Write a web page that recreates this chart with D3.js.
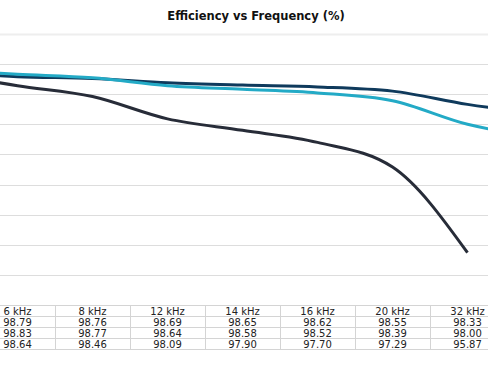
<!DOCTYPE html>
<html><head><meta charset="utf-8">
<script src="https://cdn.jsdelivr.net/npm/d3@7"></script>
<style>html,body{margin:0;padding:0;background:#fff;overflow:hidden}</style>
</head><body>
<svg id="c" width="488" height="366"></svg>
<script>
// visible table columns
const categories = ["6 kHz","8 kHz","12 kHz","14 kHz","16 kHz","20 kHz","32 kHz"];
// plot domain incl. columns cropped off the picture edges (labels not visible)
const plotCategories = ["4 kHz","6 kHz","8 kHz","12 kHz","14 kHz","16 kHz","20 kHz","32 kHz","48 kHz"];
const seriesA = [98.79,98.76,98.69,98.65,98.62,98.55,98.33];
const seriesB = [98.83,98.77,98.64,98.58,98.52,98.39,98.00];
const seriesC = [98.64,98.46,98.09,97.90,97.70,97.29,95.87];
// estimated values at the cropped edge columns
const edgeA = [98.86, 98.17];
const edgeB = [98.90, 97.78];
const edgeC = [98.85, null];
const series = [
  {name:"A", values:[edgeA[0], ...seriesA, edgeA[1]], color:"#0f3a5c"},
  {name:"B", values:[edgeB[0], ...seriesB, edgeB[1]], color:"#23aac6"},
  {name:"C", values:[edgeC[0], ...seriesC, edgeC[1]], color:"#272c38"}
];
const gridValues = [95.5,96,96.5,97,97.5,98,98.5,99];
const title = "Efficiency vs Frequency (%)";

const svg = d3.select("#c");
const W = 488;
const x = d3.scaleBand().domain(plotCategories).range([-95, 580]).padding(0);
const y = d3.scaleLinear().domain([95.5, 99]).range([275, 64]);

svg.append("text").attr("x", 256).attr("y", 20).attr("text-anchor","middle")
  .attr("font-family","DejaVu Sans, Verdana, sans-serif").attr("font-weight","bold")
  .attr("font-size", 11.5).attr("fill","#111").text(title);

svg.append("line").attr("x1",0).attr("x2",W).attr("y1",34.5).attr("y2",34.5)
  .attr("stroke","#eeeeee").attr("stroke-width",2);

svg.append("g").selectAll("line").data(gridValues).join("line")
  .attr("x1",0).attr("x2",W)
  .attr("y1",d=>Math.round(y(d))+0.5).attr("y2",d=>Math.round(y(d))+0.5)
  .attr("stroke","#dddddd").attr("stroke-width",1.2);

const line = d3.line()
  .defined(d=>d != null)
  .x((d,i)=>x(plotCategories[i]) + x.bandwidth()/2)
  .y(d=>y(d))
  .curve(d3.curveMonotoneX);

svg.append("g").selectAll("path").data(series).join("path")
  .attr("d", d=>line(d.values)).attr("fill","none")
  .attr("stroke", d=>d.color).attr("stroke-width",3).attr("stroke-linecap","butt");

// table
const rowH = 11, tableTop = 305;
const tg = svg.append("g");
for (let r = 0; r <= 4; r++) {
  tg.append("line").attr("x1",0).attr("x2",W).attr("y1",tableTop + r*rowH + 0.5).attr("y2",tableTop + r*rowH + 0.5)
    .attr("stroke","#d4d4d4").attr("stroke-width",1);
}
categories.slice(1).forEach(c=>{
  tg.append("line").attr("x1",Math.round(x(c))+0.5).attr("x2",Math.round(x(c))+0.5)
    .attr("y1",tableTop).attr("y2",tableTop+4*rowH).attr("stroke","#d4d4d4");
});
const rows = [categories, seriesA.map(v=>v.toFixed(2)), seriesB.map(v=>v.toFixed(2)), seriesC.map(v=>v.toFixed(2))];
rows.forEach((row, r)=>{
  tg.append("g").selectAll("text").data(row).join("text")
    .attr("x",(d,i)=>x(categories[i]) + x.bandwidth()/2)
    .attr("y", tableTop + r*rowH + 9.5)
    .attr("text-anchor","middle")
    .attr("font-family","DejaVu Sans, Verdana, sans-serif")
    .attr("font-size",10).attr("fill","#222").text(d=>d);
});
</script>
</body></html>
